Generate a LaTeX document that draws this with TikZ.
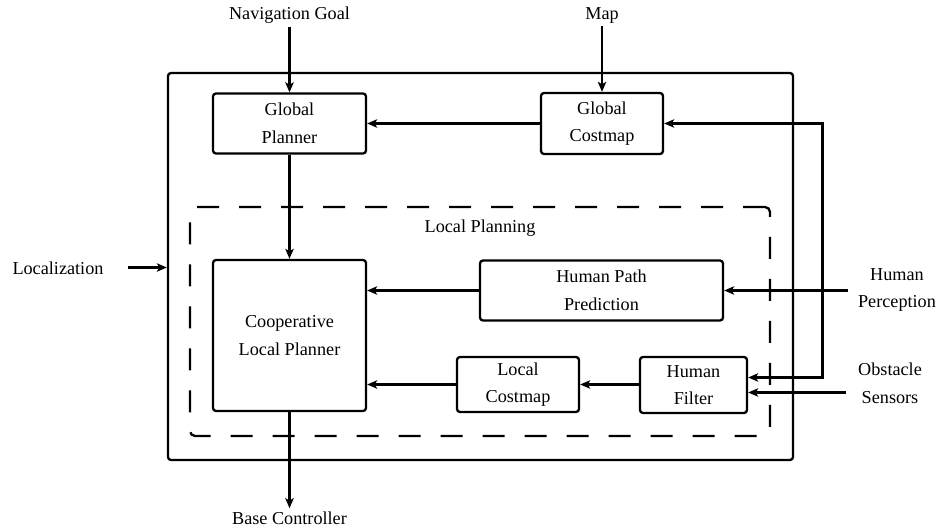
\documentclass[tikz,border=0pt]{standalone}
\usepackage{fontspec}
\setmainfont{Liberation Serif}
\usetikzlibrary{arrows.meta}
\begin{document}
\begin{tikzpicture}[x=0.5pt,y=-0.5pt,
  every node/.style={font={\fontsize{9.1}{13.8}\selectfont}},
  blk/.style={draw, line width=1.15pt, rounded corners=1.5pt, align=center, inner sep=0pt},
  lbl/.style={align=center, inner sep=1.5pt},
  conn/.style={line width=1.15pt, -{Stealth[length=5pt,width=4.2pt,inset=1.2pt]}},
  both/.style={line width=1.15pt, {Stealth[length=5pt,width=4.2pt,inset=1.2pt]}-{Stealth[length=5pt,width=4.2pt,inset=1.2pt]}}
]
\useasboundingbox (0,0) rectangle (940,529);

% containers
\node[draw, line width=1.15pt, rounded corners=1.5pt, minimum width=312.5pt, minimum height=193.5pt, inner sep=0pt] (outer) at (480.5,266.5) {};
\node[draw, line width=1.15pt, rounded corners=2.5pt, dash pattern=on 11pt off 10pt, minimum width=290pt, minimum height=114.5pt, inner sep=0pt] (lp) at (480,321.5) {};
\node[lbl] (lptext) at (480,228) {Local Planning};

% blocks
\node[blk, minimum width=76.5pt, minimum height=30pt] (gp) at (289.5,123.5) {Global\\Planner};
\node[blk, minimum width=61pt, minimum height=30.5pt] (gc) at (602,123.5) {Global\\Costmap};
\node[blk, minimum width=76.5pt, minimum height=75.5pt] (clp) at (289.5,335.5) {Cooperative\\Local Planner};
\node[blk, minimum width=121.5pt, minimum height=30pt] (hpp) at (601.5,290.5) {Human Path\\Prediction};
\node[blk, minimum width=61pt, minimum height=27.5pt] (lc) at (518,384.5) {Local\\Costmap};
\node[blk, minimum width=53.5pt, minimum height=28pt] (hf) at (693.5,385) {Human\\Filter};

% outside labels
\node[lbl] (ng) at (289.5,15) {Navigation Goal};
\node[lbl] (map) at (602,15) {Map};
\node[lbl] (bc) at (289.5,518) {Base Controller};
\node[lbl] (loc) at (58,268) {Localization};
\node[lbl] (hper) at (897,290) {Human\\Perception};
\node[lbl] (obs) at (890,383) {Obstacle\\Sensors};

\coordinate (locs) at (128,267.5);
\coordinate (hpers) at (848,290.5);
\coordinate (obss) at (846,392.5);
\coordinate (fbc) at (822.5,377.5);

% connectors
\draw[conn] (ng.south) -- (gp.north);
\draw[conn] (map.south) -- (gc.north);
\draw[conn] (gc.west) -- (gp.east |- gc.west);
\draw[conn] (gp.south) -- (clp.north);
\draw[conn] (clp.south) -- (bc.north);
\draw[conn] (locs) -- (outer.west |- locs);
\draw[conn] (hpp.west) -- (clp.east |- hpp.west);
\draw[conn] (lc.west) -- (clp.east |- lc.west);
\draw[conn] (hf.west |- lc.west) -- (lc.east);
\draw[conn] (hpers) -- (hpp.east |- hpers);
\draw[conn] (obss) -- (hf.east |- obss);
\draw[both] (hf.east |- fbc) -- (fbc) |- (gc.east);
\end{tikzpicture}
\end{document}
